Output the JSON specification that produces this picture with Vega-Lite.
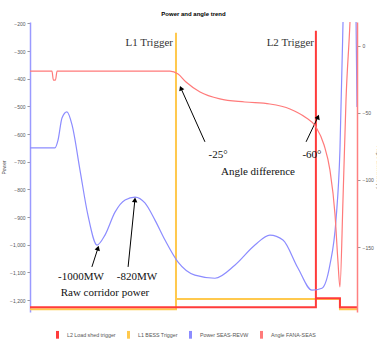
{
  "$schema": "https://vega.github.io/schema/vega-lite/v6.json",
  "width": 327,
  "height": 290,
  "autosize": {"type": "none"},
  "padding": {"left": 30, "top": 22, "right": 20, "bottom": 42},
  "title": {"text": "Power and angle trend", "fontSize": 6, "fontWeight": "bold", "font": "Liberation Sans", "offset": 4, "anchor": "middle", "color": "#000"},
  "config": {"view": {"stroke": null}, "font": "Liberation Sans"},
  "datasets": {
    "left": [
      {"s": "L1 BESS Trigger", "i": 1, "t": 0, "v": -1233},
      {"s": "L1 BESS Trigger", "i": 2, "t": 0.625, "v": -1233},
      {"s": "L1 BESS Trigger", "i": 3, "t": 0.625, "v": -234},
      {"s": "L1 BESS Trigger", "i": 4, "t": 0.625, "v": -1196},
      {"s": "L1 BESS Trigger", "i": 5, "t": 1.327, "v": -1196},
      {"s": "L1 BESS Trigger", "i": 6, "t": 1.327, "v": -1233},
      {"s": "L1 BESS Trigger", "i": 7, "t": 1.4, "v": -1233},
      {"s": "L2 Load shed trigger", "i": 1, "t": 0, "v": -1226},
      {"s": "L2 Load shed trigger", "i": 2, "t": 1.224, "v": -1226},
      {"s": "L2 Load shed trigger", "i": 3, "t": 1.224, "v": -227},
      {"s": "L2 Load shed trigger", "i": 4, "t": 1.224, "v": -1193},
      {"s": "L2 Load shed trigger", "i": 5, "t": 1.327, "v": -1193},
      {"s": "L2 Load shed trigger", "i": 6, "t": 1.327, "v": -1226},
      {"s": "L2 Load shed trigger", "i": 7, "t": 1.4, "v": -1226},
      {"s": "Power SEAS-REVW", "i": 1, "t": 0, "v": -650},
      {"s": "Power SEAS-REVW", "i": 2, "t": 0.107, "v": -650},
      {"s": "Power SEAS-REVW", "i": 3, "t": 0.12, "v": -622},
      {"s": "Power SEAS-REVW", "i": 4, "t": 0.137, "v": -542},
      {"s": "Power SEAS-REVW", "i": 5, "t": 0.158, "v": -520},
      {"s": "Power SEAS-REVW", "i": 6, "t": 0.18, "v": -567},
      {"s": "Power SEAS-REVW", "i": 7, "t": 0.214, "v": -730},
      {"s": "Power SEAS-REVW", "i": 8, "t": 0.248, "v": -893},
      {"s": "Power SEAS-REVW", "i": 9, "t": 0.287, "v": -1001},
      {"s": "Power SEAS-REVW", "i": 10, "t": 0.321, "v": -965},
      {"s": "Power SEAS-REVW", "i": 11, "t": 0.364, "v": -882},
      {"s": "Power SEAS-REVW", "i": 12, "t": 0.407, "v": -838},
      {"s": "Power SEAS-REVW", "i": 13, "t": 0.45, "v": -828},
      {"s": "Power SEAS-REVW", "i": 14, "t": 0.492, "v": -849},
      {"s": "Power SEAS-REVW", "i": 15, "t": 0.535, "v": -911},
      {"s": "Power SEAS-REVW", "i": 16, "t": 0.578, "v": -983},
      {"s": "Power SEAS-REVW", "i": 17, "t": 0.634, "v": -1063},
      {"s": "Power SEAS-REVW", "i": 18, "t": 0.706, "v": -1110},
      {"s": "Power SEAS-REVW", "i": 19, "t": 0.792, "v": -1121},
      {"s": "Power SEAS-REVW", "i": 20, "t": 0.878, "v": -1073},
      {"s": "Power SEAS-REVW", "i": 21, "t": 0.963, "v": -1001},
      {"s": "Power SEAS-REVW", "i": 22, "t": 1.027, "v": -965},
      {"s": "Power SEAS-REVW", "i": 23, "t": 1.083, "v": -983},
      {"s": "Power SEAS-REVW", "i": 24, "t": 1.147, "v": -1084},
      {"s": "Power SEAS-REVW", "i": 25, "t": 1.207, "v": -1164},
      {"s": "Power SEAS-REVW", "i": 26, "t": 1.25, "v": -1157},
      {"s": "Power SEAS-REVW", "i": 27, "t": 1.284, "v": -1073},
      {"s": "Power SEAS-REVW", "i": 28, "t": 1.31, "v": -911},
      {"s": "Power SEAS-REVW", "i": 29, "t": 1.327, "v": -657},
      {"s": "Power SEAS-REVW", "i": 30, "t": 1.34, "v": -200},
      {"s": "Power SEAS-REVW", "i": 31, "t": 1.345, "v": 0},
      {"s": "Power SEAS-REVW", "i": 32, "t": 1.385, "v": 0},
      {"s": "Power SEAS-REVW", "i": 33, "t": 1.396, "v": -195},
      {"s": "Power SEAS-REVW", "i": 34, "t": 1.4, "v": -502}
    ],
    "angle": [
      {"s": "Angle FANA-SEAS", "t": 0, "a": -18.7},
      {"s": "Angle FANA-SEAS", "t": 0.094, "a": -18.7},
      {"s": "Angle FANA-SEAS", "t": 0.1, "a": -25.4},
      {"s": "Angle FANA-SEAS", "t": 0.109, "a": -25.4},
      {"s": "Angle FANA-SEAS", "t": 0.116, "a": -18.7},
      {"s": "Angle FANA-SEAS", "t": 0.599, "a": -18.7},
      {"s": "Angle FANA-SEAS", "t": 0.634, "a": -20.9},
      {"s": "Angle FANA-SEAS", "t": 0.668, "a": -26.9},
      {"s": "Angle FANA-SEAS", "t": 0.728, "a": -34.3},
      {"s": "Angle FANA-SEAS", "t": 0.813, "a": -39.5},
      {"s": "Angle FANA-SEAS", "t": 0.92, "a": -41.8},
      {"s": "Angle FANA-SEAS", "t": 1.027, "a": -43.3},
      {"s": "Angle FANA-SEAS", "t": 1.113, "a": -47.0},
      {"s": "Angle FANA-SEAS", "t": 1.177, "a": -53.0},
      {"s": "Angle FANA-SEAS", "t": 1.224, "a": -60.4},
      {"s": "Angle FANA-SEAS", "t": 1.259, "a": -73.9},
      {"s": "Angle FANA-SEAS", "t": 1.284, "a": -92.5},
      {"s": "Angle FANA-SEAS", "t": 1.306, "a": -126},
      {"s": "Angle FANA-SEAS", "t": 1.318, "a": -159.6},
      {"s": "Angle FANA-SEAS", "t": 1.327, "a": -179.8},
      {"s": "Angle FANA-SEAS", "t": 1.34, "a": -115},
      {"s": "Angle FANA-SEAS", "t": 1.353, "a": -40},
      {"s": "Angle FANA-SEAS", "t": 1.37, "a": 18},
      {"s": "Angle FANA-SEAS", "t": 1.375, "a": 40}
    ],
    "trignotes": [
      {"t": 0.612, "v": -272, "label": "L1 Trigger"},
      {"t": 1.216, "v": -272, "label": "L2 Trigger"}
    ],
    "notes": [
      {"t": 0.805, "v": -677, "label": "-25°"},
      {"t": 1.207, "v": -677, "label": "-60°"},
      {"t": 0.976, "v": -737, "label": "Angle difference"},
      {"t": 0.218, "v": -1117, "label": "-1000MW"},
      {"t": 0.458, "v": -1117, "label": "-820MW"},
      {"t": 0.321, "v": -1175, "label": "Raw corridor power"}
    ],
    "arrows": [
      {"id": 1, "t": 0.749, "v": -628, "t2": 0.646, "v2": -434},
      {"id": 2, "t": 1.182, "v": -628, "t2": 1.233, "v2": -538},
      {"id": 3, "t": 0.265, "v": -1080, "t2": 0.291, "v2": -1012},
      {"id": 4, "t": 0.42, "v": -1080, "t2": 0.449, "v2": -838}
    ]
  },
  "layer": [
    {
      "layer": [
        {
          "data": {"name": "left"},
          "transform": [{"filter": "datum.s !== 'Power SEAS-REVW'"}],
          "mark": {"type": "line", "strokeWidth": 2, "clip": true},
          "encoding": {
            "stroke": {"field": "s", "type": "nominal"},
            "order": {"field": "i", "type": "quantitative"}
          }
        },
        {
          "data": {"name": "left"},
          "transform": [{"filter": "datum.s === 'Power SEAS-REVW'"}],
          "mark": {"type": "line", "strokeWidth": 1.2, "interpolate": "monotone", "clip": true},
          "encoding": {
            "stroke": {"field": "s", "type": "nominal"},
            "order": {"field": "i", "type": "quantitative"}
          }
        },
        {
          "data": {"name": "trignotes"},
          "mark": {"type": "text", "align": "right", "baseline": "middle", "font": "Liberation Serif", "fontSize": 11, "color": "#333"},
          "encoding": {"text": {"field": "label"}}
        },
        {
          "data": {"name": "notes"},
          "mark": {"type": "text", "align": "center", "baseline": "middle", "font": "Liberation Serif", "fontSize": 11, "color": "#111"},
          "encoding": {"text": {"field": "label"}}
        },
        {
          "data": {"name": "arrows"},
          "mark": {"type": "rule", "color": "#000", "strokeWidth": 1},
          "encoding": {"x2": {"field": "t2"}, "y2": {"field": "v2"}}
        },
        {
          "data": {"name": "arrows"},
          "transform": [{"filter": "datum.id === 1"}],
          "mark": {"type": "point", "shape": "triangle-up", "filled": true, "color": "#000", "size": 30, "angle": 338, "opacity": 1},
          "encoding": {"x": {"field": "t2", "type": "quantitative"}, "y": {"field": "v2", "type": "quantitative"}}
        },
        {
          "data": {"name": "arrows"},
          "transform": [{"filter": "datum.id === 2"}],
          "mark": {"type": "point", "shape": "triangle-up", "filled": true, "color": "#000", "size": 30, "angle": 22, "opacity": 1},
          "encoding": {"x": {"field": "t2", "type": "quantitative"}, "y": {"field": "v2", "type": "quantitative"}}
        },
        {
          "data": {"name": "arrows"},
          "transform": [{"filter": "datum.id === 3"}],
          "mark": {"type": "point", "shape": "triangle-up", "filled": true, "color": "#000", "size": 30, "angle": 17, "opacity": 1},
          "encoding": {"x": {"field": "t2", "type": "quantitative"}, "y": {"field": "v2", "type": "quantitative"}}
        },
        {
          "data": {"name": "arrows"},
          "transform": [{"filter": "datum.id === 4"}],
          "mark": {"type": "point", "shape": "triangle-up", "filled": true, "color": "#000", "size": 30, "angle": 6, "opacity": 1},
          "encoding": {"x": {"field": "t2", "type": "quantitative"}, "y": {"field": "v2", "type": "quantitative"}}
        }
      ],
      "encoding": {
        "x": {
          "field": "t", "type": "quantitative",
          "scale": {"domain": [0, 1.4], "nice": false},
          "axis": {"title": "Time", "values": [0, 0.1, 0.2, 0.3, 0.4, 0.5, 0.6, 0.7, 0.8, 0.9, 1.0, 1.1, 1.2, 1.3, 1.4], "format": ".1f", "labelFontSize": 5, "titleFontSize": 5, "titleFontWeight": "normal", "labelColor": "#555", "titleColor": "#444", "tickSize": 3, "tickColor": "#999", "domainColor": "#bbb", "grid": false, "labelPadding": 2, "titlePadding": 2}
        },
        "y": {
          "field": "v", "type": "quantitative",
          "scale": {"domain": [-1243, -195], "nice": false, "zero": false},
          "axis": {"title": "Power", "values": [-200, -300, -400, -500, -600, -700, -800, -900, -1000, -1100, -1200], "format": ",.0f", "labelFontSize": 5, "titleFontSize": 5, "titleFontWeight": "normal", "labelColor": "#555", "titleColor": "#444", "tickSize": 3, "tickColor": "#999", "domainColor": "#9a9aff", "domainWidth": 1.5, "grid": false, "labelPadding": 2, "titlePadding": 3, "labelOverlap": false}
        }
      }
    },
    {
      "data": {"name": "angle"},
      "mark": {"type": "line", "strokeWidth": 1.2, "interpolate": "monotone", "clip": true},
      "encoding": {
        "x": {"field": "t", "type": "quantitative", "scale": {"domain": [0, 1.4], "nice": false}, "axis": null},
        "y": {
          "field": "a", "type": "quantitative",
          "scale": {"domain": [-198.5, 17.9], "nice": false, "zero": false},
          "axis": {"orient": "right", "title": "Angle difference (°)", "values": [-150, -100, -50, 0], "labelExpr": "format(datum.value, 'd')", "labelFontSize": 5, "titleFontSize": 5, "titleFontWeight": "normal", "labelColor": "#555", "titleColor": "#444", "tickSize": 3, "tickColor": "#999", "domainColor": "#ff8080", "domainWidth": 1.5, "grid": false, "labelPadding": 2, "titlePadding": 2, "labelOverlap": false, "labelAlign": "left", "labelBaseline": "middle", "zindex": 2}
        },
        "stroke": {
          "field": "s", "type": "nominal",
          "scale": {"domain": ["L2 Load shed trigger", "L1 BESS Trigger", "Power SEAS-REVW", "Angle FANA-SEAS"], "range": ["#ff3b3b", "#ffc94d", "#8c8cff", "#ff7a7a"]},
          "legend": {
            "orient": "none", "legendX": 22, "legendY": 307, "direction": "horizontal",
            "title": "Frequency", "titleOrient": "bottom", "titleAnchor": "middle", "titleFontSize": 8, "titleFontWeight": "bold", "titleColor": "#000", "titlePadding": 10,
            "labelFontSize": 5.3, "labelColor": "#555", "symbolType": "M0,-1L0,1", "symbolSize": 60, "symbolStrokeWidth": 3, "columnPadding": 6, "labelOffset": 4
          }
        }
      }
    }
  ],
  "resolve": {"scale": {"y": "independent"}}
}
